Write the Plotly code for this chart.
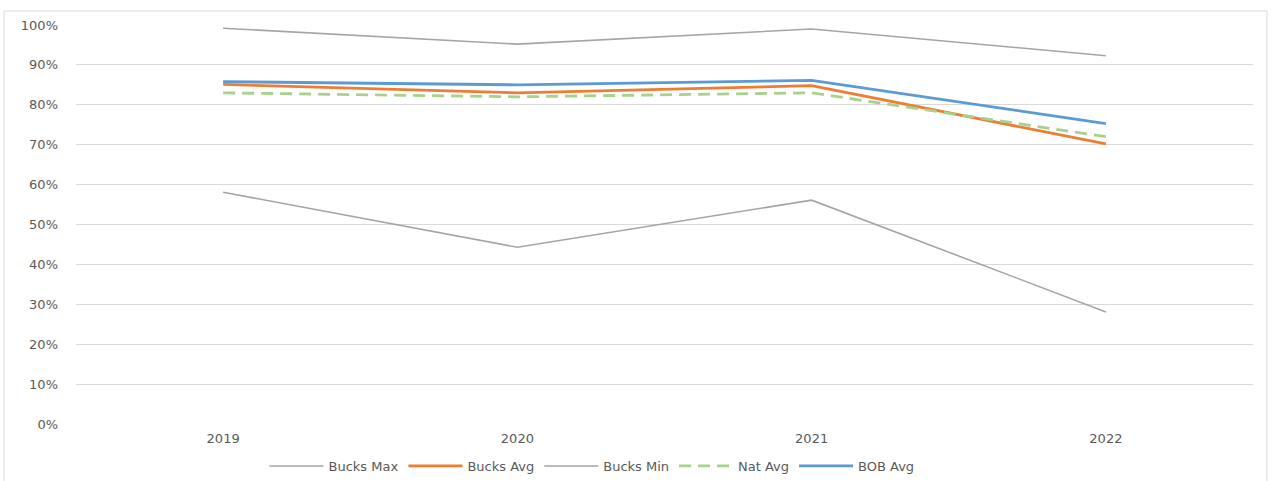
import plotly.graph_objects as go

years = ["2019", "2020", "2021", "2022"]
bucks_max = [0.992, 0.952, 0.990, 0.923]
bucks_avg = [0.851, 0.830, 0.848, 0.702]
bucks_min = [0.581, 0.443, 0.561, 0.281]
nat_avg = [0.830, 0.820, 0.830, 0.720]
bob_avg = [0.858, 0.850, 0.861, 0.753]

series = [
    ("Bucks Max", bucks_max, "#A5A5A5", 1.6, "solid"),
    ("Bucks Avg", bucks_avg, "#ED7D31", 2.8, "solid"),
    ("Bucks Min", bucks_min, "#A5A5A5", 1.6, "solid"),
    ("Nat Avg", nat_avg, "#A9D18E", 2.8, "12px,7px"),
    ("BOB Avg", bob_avg, "#5B9BD5", 2.8, "solid"),
]

fig = go.Figure()
for name, vals, color, width, dash in series:
    fig.add_trace(go.Scatter(
        x=years, y=vals, name=name, mode="lines",
        line=dict(color=color, width=width, dash=dash),
    ))

W, H = 1271, 481
ml, mr, mt, mb = 76, 18, 25, 57
pw, ph = W - ml - mr, H - mt - mb
FONT = "DejaVu Sans"
GREY = "#595959"


def py(pixel):
    """Convert a vertical pixel position to paper coordinates."""
    return (mt + ph - pixel) / ph


def px(pixel):
    """Convert a horizontal pixel position to paper coordinates."""
    return (pixel - ml) / pw


fig.update_layout(
    width=W, height=H,
    margin=dict(l=ml, r=mr, t=mt, b=mb, autoexpand=False),
    paper_bgcolor="white", plot_bgcolor="white",
    font=dict(family=FONT, size=13, color=GREY),
    showlegend=True,
    legend=dict(orientation="h", x=px(592), xanchor="center",
                yref="container", y=(H - 451) / H, yanchor="top",
                bgcolor="rgba(0,0,0,0)",
                font=dict(family=FONT, size=13, color=GREY),
                itemwidth=54, traceorder="normal"),
    xaxis=dict(type="category", range=[-0.5, 3.5], showgrid=False,
               showline=False, ticks="", zeroline=False,
               ticklabelstandoff=5,
               tickfont=dict(family=FONT, size=13, color=GREY)),
    yaxis=dict(range=[0, 1.0], dtick=0.1, tickformat=".0%",
               showgrid=True, gridcolor="#D9D9D9", gridwidth=1,
               zeroline=False, showline=False, ticks="",
               ticklabelstandoff=17,
               tickfont=dict(family=FONT, size=13, color=GREY)),
)

# Light outer frame around the chart area
fig.add_shape(type="rect", xref="paper", yref="paper",
              x0=px(4), x1=px(1267), y0=py(490), y1=py(11),
              line=dict(color="#D9D9D9", width=1), fillcolor="rgba(0,0,0,0)",
              layer="below")

fig.write_html("out.html")
